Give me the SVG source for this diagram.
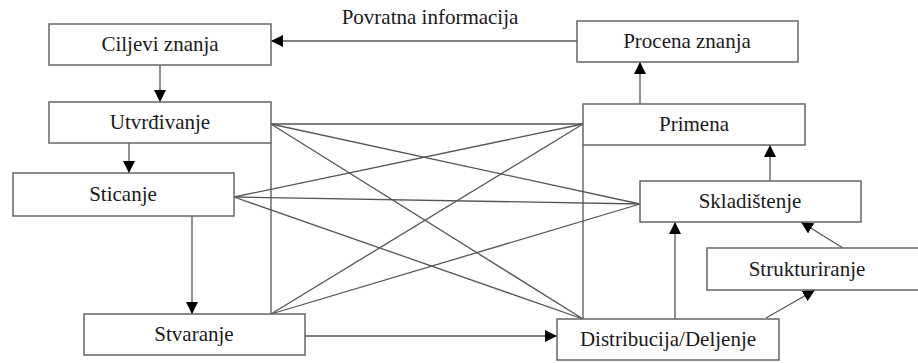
<svg xmlns="http://www.w3.org/2000/svg" width="918" height="363" viewBox="0 0 918 363">
  <style>
    .box { fill: #ffffff; stroke: #666666; stroke-width: 1.5; }
    .lbl { font-family: "Liberation Serif", "Times New Roman", serif; font-size: 21px; fill: #1a1a1a; text-anchor: middle; }
    .ln { stroke: #555555; stroke-width: 1.3; fill: none; }
    .arr { stroke: #555555; stroke-width: 1.3; fill: none; marker-end: url(#head); }
  </style>
  <defs>
    <marker id="head" markerUnits="userSpaceOnUse" markerWidth="12" markerHeight="12" refX="12" refY="6" orient="auto">
      <path d="M0,0 L12,6 L0,12 Z" fill="#000000"/>
    </marker>
  </defs>
  <rect width="918" height="363" fill="#ffffff"/>

  <g id="connectors">
    <!-- feedback loop -->
    <line class="arr" x1="577" y1="41" x2="271" y2="41"/>
    <!-- left column flow -->
    <line class="arr" x1="160" y1="65" x2="160" y2="102"/>
    <line class="arr" x1="129" y1="143" x2="129" y2="173"/>
    <line class="arr" x1="192" y1="216" x2="192" y2="314"/>
    <line class="arr" x1="305" y1="336" x2="557" y2="336"/>
    <!-- right column flow -->
    <line class="arr" x1="675" y1="319" x2="675" y2="222"/>
    <line class="arr" x1="766" y1="318" x2="815" y2="290"/>
    <line class="arr" x1="843" y1="248" x2="801" y2="222"/>
    <line class="arr" x1="770" y1="181" x2="770" y2="145"/>
    <line class="arr" x1="640" y1="104" x2="640" y2="62"/>
    <!-- vertical rails -->
    <line class="ln" x1="271" y1="143" x2="271" y2="314"/>
    <line class="ln" x1="583" y1="145" x2="583" y2="319"/>
    <!-- cross links -->
    <line class="ln" x1="271" y1="124" x2="583" y2="124"/>
    <line class="ln" x1="271" y1="124" x2="640" y2="204"/>
    <line class="ln" x1="271" y1="124" x2="583" y2="319"/>
    <line class="ln" x1="234" y1="197" x2="583" y2="124"/>
    <line class="ln" x1="234" y1="197" x2="640" y2="204"/>
    <line class="ln" x1="234" y1="197" x2="583" y2="319"/>
    <line class="ln" x1="271" y1="314" x2="583" y2="124"/>
    <line class="ln" x1="271" y1="314" x2="640" y2="204"/>
  </g>

  <text class="lbl" x="430" y="24">Povratna informacija</text>

  <g id="ciljevi">
    <rect class="box" x="49" y="24" width="222" height="41"/>
    <text class="lbl" x="160" y="51">Ciljevi znanja</text>
  </g>
  <g id="utvrdjivanje">
    <rect class="box" x="49" y="102" width="222" height="41"/>
    <text class="lbl" x="160" y="129">Utvrđivanje</text>
  </g>
  <g id="sticanje">
    <rect class="box" x="13" y="173" width="221" height="43"/>
    <text class="lbl" x="123" y="201">Sticanje</text>
  </g>
  <g id="stvaranje">
    <rect class="box" x="84" y="314" width="221" height="41"/>
    <text class="lbl" x="194" y="341">Stvaranje</text>
  </g>
  <g id="procena">
    <rect class="box" x="577" y="21" width="221" height="41"/>
    <text class="lbl" x="687" y="48">Procena znanja</text>
  </g>
  <g id="primena">
    <rect class="box" x="583" y="104" width="222" height="41"/>
    <text class="lbl" x="694" y="131">Primena</text>
  </g>
  <g id="skladistenje">
    <rect class="box" x="640" y="181" width="221" height="41"/>
    <text class="lbl" x="750" y="208">Skladištenje</text>
  </g>
  <g id="strukturiranje">
    <rect class="box" x="707" y="248" width="225" height="42"/>
    <text class="lbl" x="807" y="276">Strukturiranje</text>
  </g>
  <g id="distribucija">
    <rect class="box" x="557" y="319" width="222" height="41"/>
    <text class="lbl" x="668" y="346">Distribucija/Deljenje</text>
  </g>
</svg>
